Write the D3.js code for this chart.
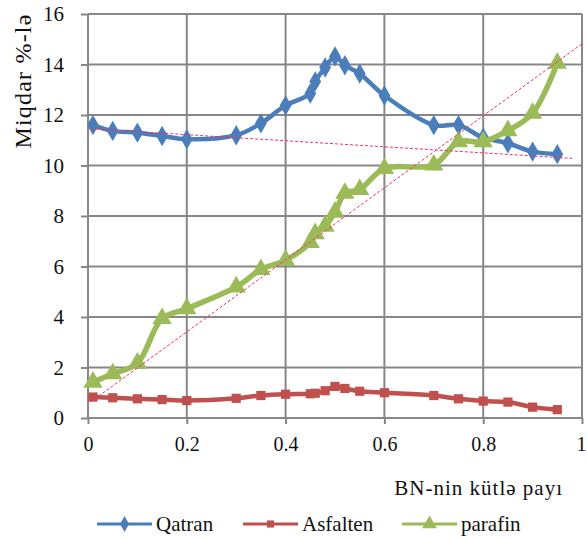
<!DOCTYPE html>
<html>
<head>
<meta charset="utf-8">
<script src="https://cdn.jsdelivr.net/npm/d3@7"></script>
<style>
  html, body { margin: 0; padding: 0; background: #fff; }
  svg { display: block; }
</style>
</head>
<body>
<svg id="chart" width="587" height="538"></svg>
<script>
// BN mass fraction for each sample
const fractions = [0.01, 0.05, 0.1, 0.15, 0.2, 0.3, 0.35, 0.4, 0.45, 0.46, 0.48, 0.5, 0.52, 0.55, 0.6, 0.7, 0.75, 0.8, 0.85, 0.9, 0.95];

// Component content, %
const qatran   = [11.6, 11.37, 11.3, 11.17, 11.04, 11.2, 11.67, 12.38, 12.85, 13.33, 13.88, 14.32, 13.97, 13.64, 12.77, 11.6, 11.6, 11.1, 10.88, 10.55, 10.45];
const asfalten = [0.83, 0.8, 0.76, 0.73, 0.69, 0.78, 0.89, 0.94, 0.96, 0.98, 1.08, 1.25, 1.17, 1.06, 1.0, 0.89, 0.76, 0.67, 0.63, 0.43, 0.33];
const parafin  = [1.42, 1.75, 2.17, 3.94, 4.33, 5.19, 5.88, 6.25, 6.95, 7.3, 7.6, 8.15, 8.9, 9.05, 9.88, 10.02, 10.94, 10.94, 11.38, 12.07, 14.05];

// Linear trend lines: [x start, x end, slope, intercept]
const qatranTrend  = [0.005, 0.98, -1.2, 11.46];
const parafinTrend = [0.005, 1.0, 14.26, 0.56];

const xTicks = [0, 0.2, 0.4, 0.6, 0.8, 1];
const yTicks = [0, 2, 4, 6, 8, 10, 12, 14, 16];

const seriesNames = ["Qatran", "Asfalten", "parafin"];

const FONT = "'Liberation Serif', 'Times New Roman', serif";

const svg = d3.select("#chart");
const L = 88, R = 582, T = 14, B = 418;

const x = d3.scaleLinear().domain([0, 1]).range([L, R]);
const y = d3.scaleLinear().domain([0, 16]).range([B, T]);

const gridColor = "#878787";

// Grid and axes
const xAxis = svg.append("g")
  .attr("transform", `translate(0,${B})`)
  .call(d3.axisBottom(x).tickValues(xTicks).tickSize(6).tickPadding(13)
    .tickFormat(d => String(+d.toFixed(1))));
xAxis.select(".domain").remove();
xAxis.selectAll("line").attr("stroke", gridColor).attr("stroke-width", 2);
xAxis.selectAll("text")
  .style("font-size", "20px").style("font-family", FONT).attr("fill", "#111")
  .filter(d => d === 1).attr("text-anchor", "end").attr("x", 4);

const yAxis = svg.append("g")
  .attr("transform", `translate(${L},0)`)
  .call(d3.axisLeft(y).tickValues(yTicks).tickSize(7).tickPadding(17));
yAxis.select(".domain").remove();
yAxis.selectAll("line").attr("stroke", gridColor).attr("stroke-width", 2);
yAxis.selectAll("text").style("font-size", "21px").style("font-family", FONT).attr("fill", "#111");

svg.append("g").selectAll("line").data(yTicks).join("line")
  .attr("x1", L).attr("x2", R)
  .attr("y1", d => y(d)).attr("y2", d => y(d))
  .attr("stroke", gridColor).attr("stroke-width", 2);
svg.append("g").selectAll("line").data(xTicks).join("line")
  .attr("x1", d => x(d)).attr("x2", d => x(d))
  .attr("y1", T).attr("y2", B)
  .attr("stroke", gridColor).attr("stroke-width", 2);

// Series
const series = [
  { name: seriesNames[0], values: qatran,   color: "#4A7EBB", width: 4.5, shape: d3.symbolDiamond,  size: 120 },
  { name: seriesNames[1], values: asfalten, color: "#C0504D", width: 4.5, shape: d3.symbolSquare,   size: 85 },
  { name: seriesNames[2], values: parafin,  color: "#9BBB59", width: 5.5, shape: d3.symbolTriangle, size: 160 }
];

const line = d3.line()
  .x(d => x(d[0])).y(d => y(d[1]))
  .curve(d3.curveCatmullRom.alpha(0.5));

series.forEach(s => {
  const pts = fractions.map((f, i) => [f, s.values[i]]);
  svg.append("path")
    .attr("d", line(pts))
    .attr("fill", "none")
    .attr("stroke", s.color)
    .attr("stroke-width", s.width)
    .attr("stroke-linejoin", "round");
  svg.append("g").selectAll("path").data(pts).join("path")
    .attr("transform", d => `translate(${x(d[0])},${y(d[1])})`)
    .attr("d", d3.symbol().type(s.shape).size(s.size))
    .attr("fill", s.color);
});

// Trend lines
[qatranTrend, parafinTrend].forEach(t => {
  const [x0, x1, k, b] = t;
  svg.append("line")
    .attr("x1", x(x0)).attr("y1", y(k * x0 + b))
    .attr("x2", x(x1)).attr("y2", y(k * x1 + b))
    .attr("stroke", "#F0306A")
    .attr("stroke-width", 1)
    .attr("stroke-dasharray", "3,2");
});

// Axis titles
svg.append("text")
  .attr("transform", "translate(31,81) rotate(-90)")
  .attr("text-anchor", "middle")
  .style("font-family", FONT)
  .style("font-size", "24px")
  .style("letter-spacing", "1.2px")
  .attr("fill", "#111")
  .text("Miqdar %-lə");

svg.append("text")
  .attr("x", 563).attr("y", 495)
  .attr("text-anchor", "end")
  .style("font-family", FONT)
  .style("font-size", "21px")
  .style("letter-spacing", "1px")
  .attr("fill", "#111")
  .text("BN-nin kütlə payı");

// Legend
const legendX = [97, 243, 402];
const legend = svg.append("g");
series.forEach((s, i) => {
  const g = legend.append("g").attr("transform", `translate(${legendX[i]},524)`);
  g.append("line").attr("x1", 0).attr("x2", 55).attr("y1", 0).attr("y2", 0)
    .attr("stroke", s.color).attr("stroke-width", 3);
  g.append("path").attr("transform", "translate(27.5,0)")
    .attr("d", d3.symbol().type(s.shape).size(s.size * 0.6))
    .attr("fill", s.color);
  g.append("text").attr("x", 59).attr("y", 7)
    .style("font-family", FONT)
    .style("font-size", "21px")
    .attr("fill", "#111")
    .text(s.name);
});
</script>
</body>
</html>
